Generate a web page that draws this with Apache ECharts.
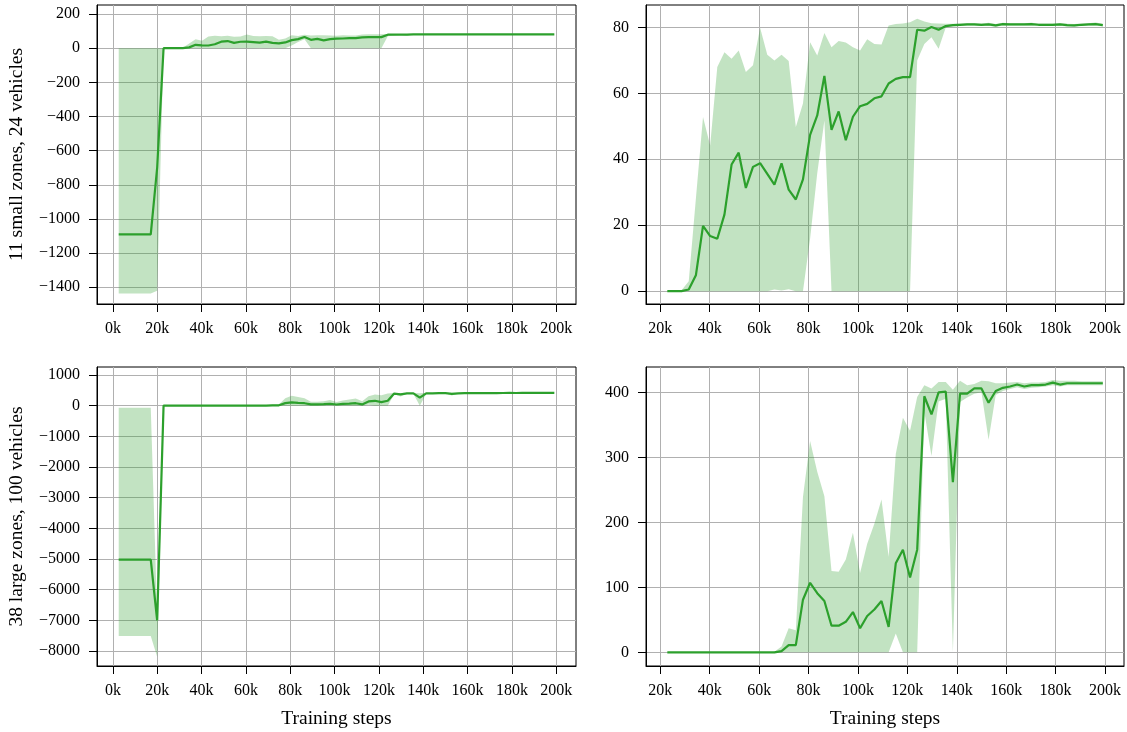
<!DOCTYPE html>
<html>
<head>
<meta charset="utf-8">
<script src="https://cdn.jsdelivr.net/npm/echarts@6/dist/echarts.min.js"></script>
<style>html,body{margin:0;padding:0;background:#fff}#c{width:1127px;height:732px}</style>
</head>
<body>
<div id="c"></div>
<script>
// Training steps (thousands)
const steps = [2.6,5.49,8.38,11.27,14.16,17.05,19.94,22.83,25.72,28.61,31.5,34.39,37.28,40.17,43.06,45.95,48.84,51.73,54.62,57.51,60.4,63.29,66.18,69.07,71.96,74.85,77.74,80.63,83.52,86.41,89.3,92.19,95.08,97.97,100.86,103.75,106.64,109.53,112.42,115.31,118.2,121.09,123.98,126.87,129.76,132.65,135.54,138.43,141.32,144.21,147.1,149.99,152.88,155.77,158.66,161.55,164.44,167.33,170.22,173.11,176.0,178.89,181.78,184.67,187.56,190.45,193.34,196.23,199.12];

// 11 small zones, 24 vehicles
const smallMean = [-1090,-1090,-1090,-1090,-1090,-1090,-700,
  0,0,0,0.5,4.8, 19.8,16.7,15.9,23.2,38.4, 42.0,31.3,37.7,38.8,35.6, 32.3,38.8,30.8,27.8,33.9,
  47.4,53.3,65.3,48.9,54.5, 45.8,52.9,56.1,56.8,58.5, 59.1,63.0,64.4,64.9,64.9, 79.3,79.0,80.1,79.3,80.4,
  80.7,80.8,80.9,80.9,80.8, 80.9,80.6,81.0,80.9,80.9, 80.9,81.0,80.8,80.8,80.8, 80.9,80.7,80.6,80.8,80.9, 81.0,80.7];
const smallUpper = [0,0,0,0,0,0,0,
  0,0,0.3,3,28, 52.8,44.2,68,72.5,70.5, 73,66.5,68.5,79.9,71.7, 70,71.7,69.8,49.8,56.9,
  75.5,71.5,78.3,74,75.9, 75.4,74,73,76.4,75, 74.8,80.6,81.0,81.2,81.6, 82.6,81.8,81.3,81.2,81.1,
  81.1,81.2,81.3,81.3,81.2, 81.4,81.0,81.4,81.3,81.3, 81.3,81.4,81.2,81.2,81.2, 81.3,81.1,81.0,81.2,81.3, 81.5,81.1];
const smallLower = [-1436,-1436,-1436,-1436,-1436,-1436,-1420,
  0,0,0,0,0, 0,0,0,0,0, 0,0,0,0,0, 0.5,0.2,0.6,0,0,
  16,35.8,51.8,0,0, 0,0,0,0,0, 0,0,0,0,0, 70,75,77,73.5,80.0,
  80.3,80.4,80.5,80.5,80.4, 80.5,80.2,80.6,80.5,80.5, 80.5,80.6,80.4,80.4,80.4, 80.5,80.3,80.2,80.4,80.5, 80.6,80.3];

// 38 large zones, 100 vehicles
const largeMean = [-5020,-5020,-5020,-5020,-5020,-5020,-7000,
  0,0,0,0,0, 0,0,0,0,0, 0,0,0,0,0, 0,2,11,11,81,
  107,91,79,41,41, 47,62,37,56,66, 79,39,137,158,115, 158,394,366,400,401,
  262,398,398,406,406, 384,402,407,409,412, 409,411,411,412,415, 412,414,414,414,414, 414,414];
const largeUpper = [-65,-65,-65,-65,-65,-65,-6800,
  0,0,0,0,0, 0,0,0,0,0, 0,0,0,0,0, 1,9,37,34,239,
  325,278,240,125,124, 143,184,122,167,198, 235,147,305,361,341, 393,411,406,416,416,
  404,418,411,413,418, 417,414,414,415,416, 414,415,415,416,419, 418,418,418,417,417, 417,417];
const largeLower = [-7515,-7515,-7515,-7515,-7515,-7515,-8190,
  0,0,0,0,0, 0,0,0,0,0, 0,0,0,0,0, 0,0,0,0,0,
  0,0,0,0,0, 0,0,0,0,0, 0,0,29,0,0, 0,370,302,386,390,
  0,385,392,398,400, 327,396,402,405,408, 405,407,408,409,411, 409,411,411,411,411, 411,411];

const firstZoomIndex = 7;
const xTicksLeft = [0,20,40,60,80,100,120,140,160,180,200];
const xTicksRight = [20,40,60,80,100,120,140,160,180,200];
const yTicksSmallFull = [-1400,-1200,-1000,-800,-600,-400,-200,0,200];
const yTicksSmallZoom = [0,20,40,60,80];
const yTicksLargeFull = [-8000,-7000,-6000,-5000,-4000,-3000,-2000,-1000,0,1000];
const yTicksLargeZoom = [0,100,200,300,400];
const rowLabels = ['11 small zones, 24 vehicles', '38 large zones, 100 vehicles'];
const xTitle = 'Training steps';

const FONT = 'Liberation Serif';
const GREEN = '#2ca02c';

function fmtY(v){ return v < 0 ? '\u2212' + Math.abs(v) : String(v); }

function xAxis(gi, min, max, ticks, withName){
  return {
    type:'value', gridIndex:gi, min:min, max:max,
    name: withName ? xTitle : '', nameLocation:'middle', nameGap:43,
    nameTextStyle:{fontFamily:FONT, fontSize:19.5, color:'#000'},
    axisLine:{show:true, onZero:false, lineStyle:{color:'#000', width:1}},
    axisTick:{show:true, length:8, customValues:ticks, lineStyle:{color:'#000', width:1}},
    axisLabel:{customValues:ticks, formatter:v=>v+'k', fontFamily:FONT, fontSize:16, color:'#000', margin:17},
    splitLine:{show:true, lineStyle:{color:'#b0b0b0', width:1}}
  };
}
function yAxis(gi, min, max, ticks, name){
  return {
    type:'value', gridIndex:gi, min:min, max:max,
    name: name || '', nameLocation:'middle', nameGap:70,
    nameTextStyle:{fontFamily:FONT, fontSize:19.5, color:'#000'},
    axisLine:{show:true, onZero:false, lineStyle:{color:'#000', width:1}},
    axisTick:{show:true, length:8, customValues:ticks, lineStyle:{color:'#000', width:1}},
    axisLabel:{customValues:ticks, formatter:fmtY, fontFamily:FONT, fontSize:16, color:'#000', margin:17},
    splitLine:{show:true, lineStyle:{color:'#b0b0b0', width:1}}
  };
}
function band(gi, xs, lo, hi){
  return {
    type:'custom', xAxisIndex:gi, yAxisIndex:gi, silent:true, clip:true, z:2,
    data: xs.map((x,i)=>[x, lo[i], hi[i]]),
    encode:{x:0, y:[1,2]},
    renderItem:function(params, api){
      if (params.dataIndex !== 0) return null;
      const pts = [];
      for (let i=0;i<xs.length;i++) pts.push(api.coord([xs[i], hi[i]]));
      for (let i=xs.length-1;i>=0;i--) pts.push(api.coord([xs[i], lo[i]]));
      return {type:'polygon', shape:{points:pts}, style:{fill:'rgba(44,160,44,0.29)', stroke:null}};
    }
  };
}
function line(gi, xs, ys){
  return {
    type:'line', xAxisIndex:gi, yAxisIndex:gi, z:3, showSymbol:false, silent:true,
    data: xs.map((x,i)=>[x, ys[i]]),
    lineStyle:{color:GREEN, width:2.2}, itemStyle:{color:GREEN}
  };
}

const zs = steps.slice(firstZoomIndex);
const gridBase = {show:true, borderColor:'#000', borderWidth:1, containLabel:false};
const option = {
  animation:false,
  backgroundColor:'#fff',
  grid:[
    Object.assign({left:97, top:5, width:479, height:299}, gridBase),
    Object.assign({left:646, top:5, width:478, height:299}, gridBase),
    Object.assign({left:97, top:367, width:479, height:299}, gridBase),
    Object.assign({left:646, top:367, width:478, height:299}, gridBase)
  ],
  xAxis:[
    xAxis(0, -7.2, 208.9, xTicksLeft, false),
    xAxis(1, 14.2, 207.7, xTicksRight, false),
    xAxis(2, -7.2, 208.9, xTicksLeft, true),
    xAxis(3, 14.2, 207.7, xTicksRight, true)
  ],
  yAxis:[
    yAxis(0, -1498, 253, yTicksSmallFull, rowLabels[0]),
    yAxis(1, -3.9, 86.8, yTicksSmallZoom, ''),
    yAxis(2, -8490, 1260, yTicksLargeFull, rowLabels[1]),
    yAxis(3, -21, 439, yTicksLargeZoom, '')
  ],
  series:[
    band(0, steps, smallLower, smallUpper), line(0, steps, smallMean),
    band(1, zs, smallLower.slice(firstZoomIndex), smallUpper.slice(firstZoomIndex)), line(1, zs, smallMean.slice(firstZoomIndex)),
    band(2, steps, largeLower, largeUpper), line(2, steps, largeMean),
    band(3, zs, largeLower.slice(firstZoomIndex), largeUpper.slice(firstZoomIndex)), line(3, zs, largeMean.slice(firstZoomIndex))
  ]
};
const chart = echarts.init(document.getElementById('c'), null, {renderer:'canvas'});
chart.setOption(option);
</script>
</body>
</html>
